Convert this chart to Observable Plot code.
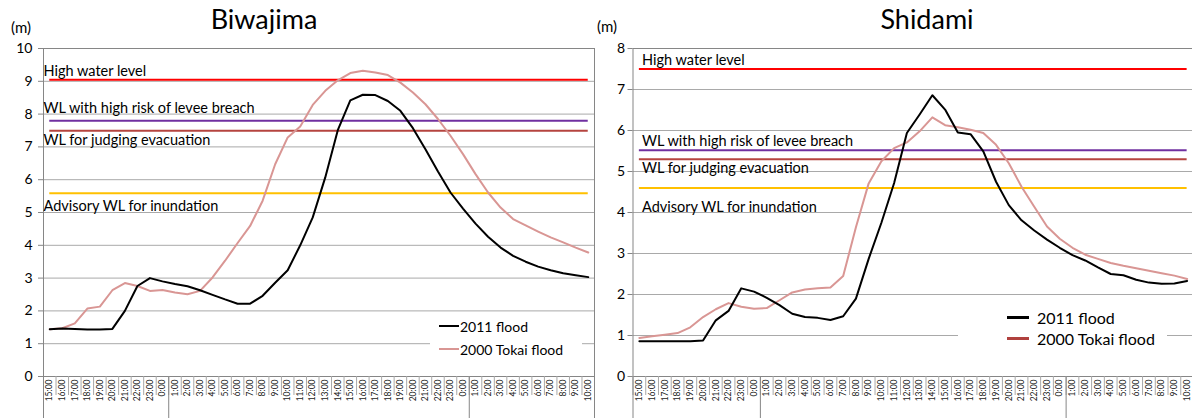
<!DOCTYPE html>
<html>
<head>
<meta charset="utf-8">
<script src="https://cdn.jsdelivr.net/npm/d3@7"></script>
<script src="https://cdn.jsdelivr.net/npm/@observablehq/plot@0.6"></script>
<style>
  html, body { margin: 0; padding: 0; background: #fff; overflow: hidden; }
  #wrap { position: relative; width: 1192px; height: 418px; overflow: hidden; font-family: Lato, sans-serif; }
  .panel { position: absolute; top: 0; }
  .panel svg.plot, .panel svg { max-width: none !important; display: block; }
  .title { position: absolute; font-size: 27px; line-height: 27px; transform: translateX(-50%); white-space: nowrap; color: #000; }
  .unit { position: absolute; font-size: 15px; line-height: 15px; color: #000; }
  .legend { position: absolute; background: #fff; }
  .legend .row { position: absolute; display: flex; align-items: center; white-space: nowrap; color: #000; }
  .legend .sw { display: inline-block; }
</style>
</head>
<body>
<div id="wrap">
  <div class="panel" id="left" style="left:0px;width:600px"></div>
  <div class="panel" id="right" style="left:600px;width:593px"></div>
  <div class="title" style="left:264px;top:5px">Biwajima</div>
  <div class="title" style="left:927px;top:5px">Shidami</div>
  <div class="unit" style="left:11px;top:20px">(m)</div>
  <div class="unit" style="left:597px;top:19px">(m)</div>
  <div class="legend" style="left:430px;top:312px;width:152px;height:48px">
    <div class="row" style="left:9px;top:4px;height:20px;font-size:14px"><span class="sw" style="width:20px;height:2px;background:#000"></span><span style="margin-left:1px">2011 flood</span></div>
    <div class="row" style="left:9px;top:27px;height:20px;font-size:14px"><span class="sw" style="width:20px;height:2px;background:#d99694"></span><span style="margin-left:1px">2000 Tokai flood</span></div>
  </div>
  <div class="legend" style="left:958px;top:302px;width:209px;height:52px">
    <div class="row" style="left:49px;top:4px;height:22px;font-size:16px"><span class="sw" style="width:22px;height:3px;background:#000"></span><span style="margin-left:8px">2011 flood</span></div>
    <div class="row" style="left:49px;top:25px;height:22px;font-size:16px"><span class="sw" style="width:22px;height:3px;background:#b0413e"></span><span style="margin-left:8px">2000 Tokai flood</span></div>
  </div>
</div>
<script>
// ---- Data ----
const times = [
  "15:00","16:00","17:00","18:00","19:00","20:00","21:00","22:00","23:00",
  "0:00","1:00","2:00","3:00","4:00","5:00","6:00","7:00","8:00","9:00","10:00","11:00","12:00",
  "13:00","14:00","15:00","16:00","17:00","18:00","19:00","20:00","21:00","22:00","23:00",
  "0:00","1:00","2:00","3:00","4:00","5:00","6:00","7:00","8:00","9:00","10:00"
];

const biwajima2011 = [1.44,1.46,1.45,1.43,1.43,1.45,2.00,2.76,3.00,2.90,2.82,2.75,2.63,2.49,2.35,2.22,2.22,2.46,2.86,3.24,4.00,4.85,6.07,7.51,8.42,8.59,8.58,8.40,8.10,7.57,6.93,6.25,5.61,5.12,4.66,4.26,3.93,3.68,3.50,3.35,3.24,3.15,3.09,3.03];
const biwajima2000 = [1.44,1.47,1.62,2.07,2.13,2.63,2.85,2.76,2.61,2.64,2.56,2.51,2.61,3.02,3.53,4.07,4.59,5.36,6.47,7.29,7.62,8.28,8.71,9.03,9.25,9.32,9.27,9.19,8.96,8.66,8.30,7.85,7.34,6.78,6.17,5.61,5.15,4.80,4.61,4.42,4.24,4.09,3.93,3.78];

const shidami2011 = [0.86,0.86,0.86,0.86,0.86,0.88,1.37,1.60,2.15,2.07,1.92,1.74,1.53,1.45,1.43,1.38,1.47,1.90,2.87,3.75,4.72,5.94,6.39,6.86,6.51,5.95,5.91,5.49,4.75,4.18,3.81,3.56,3.34,3.14,2.96,2.83,2.66,2.50,2.47,2.36,2.29,2.26,2.27,2.33];
const shidami2000 = [0.94,0.98,1.02,1.06,1.20,1.45,1.64,1.79,1.70,1.65,1.67,1.86,2.05,2.12,2.15,2.17,2.45,3.64,4.71,5.25,5.57,5.71,5.98,6.32,6.13,6.08,6.02,5.94,5.65,5.20,4.63,4.14,3.66,3.36,3.14,2.97,2.87,2.77,2.70,2.64,2.58,2.52,2.46,2.38];

const levelNames = ["High water level","WL with high risk of levee breach","WL for judging evacuation","Advisory WL for inundation"];
const biwajimaLevels = [9.05, 7.80, 7.49, 5.59];
const shidamiLevels = [7.50, 5.52, 5.30, 4.60];

const biwajimaYTicks = [0,1,2,3,4,5,6,7,8,9,10];
const shidamiYTicks = [0,1,2,3,4,5,6,7,8];

// ---- Styles ----
const levelColors = ["#ff0000","#7030a0","#b5443f","#ffc000"];
const leftLabelDy = [-8, -12, 10, 13];
const rightLabelDy = [-9, -9, 9, 19];

function panel({width, marginLeft, marginRight, yTicks, s2011, s2000, levels, labelDy, labelDx, tickPadding}) {
  const n = times.length;
  const idx = d3.range(n);
  const rows2011 = idx.map(i => ({i, v: s2011[i]}));
  const rows2000 = idx.map(i => ({i, v: s2000[i]}));
  const seps = d3.range(n + 1).map(i => i - 0.5);
  const breaks = [-0.5, ...times.flatMap((t, i) => t === "0:00" ? [i + 0.5] : []), n - 0.5];
  const lv = levels.map((v, k) => ({name: levelNames[k], value: v, color: levelColors[k]}));
  const yMax = d3.max(yTicks);
  return Plot.plot({
    width, height: 418,
    marginLeft, marginRight, marginTop: 48, marginBottom: 42,
    style: {fontFamily: "Lato, sans-serif", color: "#000", background: "transparent", maxWidth: "none"},
    x: {domain: [-0.5, n - 0.5], axis: null, label: null},
    y: {domain: [0, yMax], axis: null, label: null},
    marks: [
      Plot.gridY(yTicks, {stroke: "#a9a9a9", strokeOpacity: 1}),
      Plot.frame({stroke: "#868686"}),
      ...lv.map(d => Plot.ruleY([d], {y: "value", x1: 0, x2: n - 1, stroke: d.color, strokeWidth: 2})),
      ...lv.map((d, k) => Plot.text([d], {x: -0.5, y: "value", text: "name", textAnchor: "start", dx: labelDx, dy: labelDy[k], fontSize: 14.5, fill: "#000"})),
      Plot.line(rows2000, {x: "i", y: "v", stroke: "#d99694", strokeWidth: 2}),
      Plot.line(rows2011, {x: "i", y: "v", stroke: "#000", strokeWidth: 2}),
      Plot.axisY(yTicks, {tickSize: 5, tickPadding, stroke: "#868686", fill: "#000", fontSize: 14, label: null}),
      Plot.axisX(seps, {tickSize: 19, tickFormat: () => "", stroke: "#a9a9a9", label: null}),
      Plot.axisX(breaks, {tickSize: 42, tickFormat: () => "", stroke: "#868686", label: null}),
      Plot.axisX(idx, {tickSize: 0, tickPadding: 3, tickRotate: -90, textAnchor: "end", tickFormat: i => times[i], fontSize: 8.5, fill: "#222", label: null})
    ]
  });
}

document.getElementById("left").appendChild(panel({
  width: 600, marginLeft: 43, marginRight: 6, yTicks: biwajimaYTicks,
  s2011: biwajima2011, s2000: biwajima2000, levels: biwajimaLevels,
  labelDy: leftLabelDy, labelDx: 0, tickPadding: 6
}));
document.getElementById("right").appendChild(panel({
  width: 593, marginLeft: 32.5, marginRight: 0, yTicks: shidamiYTicks,
  s2011: shidami2011, s2000: shidami2000, levels: shidamiLevels,
  labelDy: rightLabelDy, labelDx: 9, tickPadding: 3
}));
</script>
</body>
</html>
